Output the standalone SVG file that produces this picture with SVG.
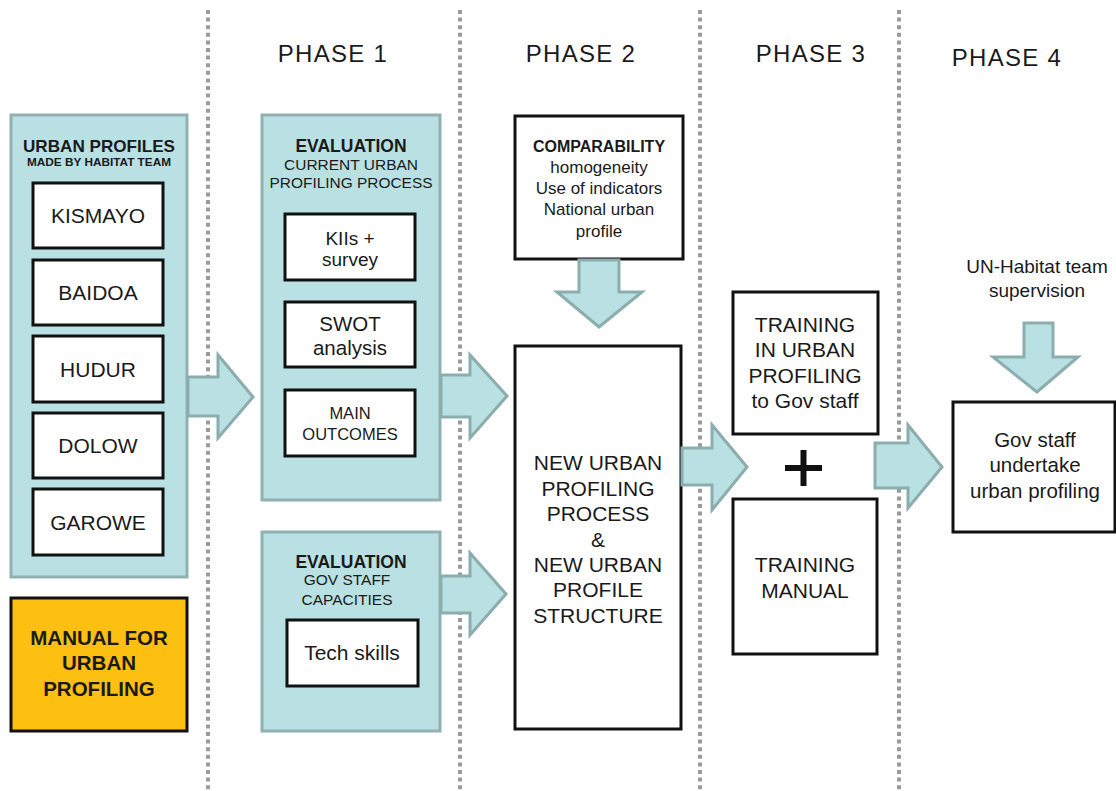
<svg xmlns="http://www.w3.org/2000/svg" width="1116" height="791" viewBox="0 0 1116 791">
<style>
text{font-family:"Liberation Sans",Arial,sans-serif;fill:#1a1a1a;text-anchor:middle}
.sep{stroke:#9a9a9a;stroke-width:4;stroke-dasharray:4 3.6;fill:none}
.panel{fill:#b9e0e3;stroke:#91b1b1;stroke-width:3}
.box{fill:#fff;stroke:#111;stroke-width:3}
.arr{fill:#b9e0e3;stroke:#8cadad;stroke-width:3;stroke-linejoin:miter}
.ph{font-size:24px;letter-spacing:1.3px}
.city{font-size:21px}
.b{font-weight:bold}
</style>
<rect width="1116" height="791" fill="#fff"/>
<g id="separators">
<line class="sep" x1="208" y1="10" x2="208" y2="791"/>
<line class="sep" x1="460" y1="10" x2="460" y2="791"/>
<line class="sep" x1="700" y1="10" x2="700" y2="791"/>
<line class="sep" x1="899" y1="10" x2="899" y2="791"/>
</g>
<g id="headings">
<text class="ph" x="333" y="62">PHASE 1</text>
<text class="ph" x="581" y="62">PHASE 2</text>
<text class="ph" x="811" y="62">PHASE 3</text>
<text class="ph" x="1007" y="66">PHASE 4</text>
</g>
<g id="urban-profiles">
<rect class="panel" x="11" y="115" width="176" height="462"/>
<text class="b" x="99" y="152" font-size="17" textLength="152" lengthAdjust="spacingAndGlyphs">URBAN PROFILES</text>
<text class="b" x="99" y="166" font-size="10.5" textLength="144" lengthAdjust="spacingAndGlyphs">MADE BY HABITAT TEAM</text>
</g>
<g id="kismayo"><rect class="box" x="33" y="183" width="130" height="65"/><text class="city" x="98" y="223">KISMAYO</text></g>
<g id="baidoa"><rect class="box" x="33" y="260" width="130" height="65"/><text class="city" x="98" y="300">BAIDOA</text></g>
<g id="hudur"><rect class="box" x="33" y="336" width="130" height="66"/><text class="city" x="98" y="377">HUDUR</text></g>
<g id="dolow"><rect class="box" x="33" y="413" width="130" height="65"/><text class="city" x="98" y="453">DOLOW</text></g>
<g id="garowe"><rect class="box" x="33" y="489" width="130" height="66"/><text class="city" x="98" y="530">GAROWE</text></g>
<g id="manual">
<rect x="11" y="598" width="176" height="133" fill="#fdbf10" stroke="#111" stroke-width="3"/>
<text class="b" x="99" y="645" font-size="20.5">MANUAL FOR</text>
<text class="b" x="99" y="670" font-size="20.5">URBAN</text>
<text class="b" x="99" y="696" font-size="20.5">PROFILING</text>
</g>
<g id="eval-process">
<rect class="panel" x="262" y="115" width="178" height="385"/>
<text class="b" x="351" y="152" font-size="17.5">EVALUATION</text>
<text x="351" y="170" font-size="15" textLength="134" lengthAdjust="spacingAndGlyphs">CURRENT URBAN</text>
<text x="351" y="188" font-size="15" textLength="163" lengthAdjust="spacingAndGlyphs">PROFILING  PROCESS</text>
</g>
<g id="kiis"><rect class="box" x="285" y="214" width="130" height="66"/><text x="350" y="245" font-size="19">KIIs +</text><text x="350" y="266" font-size="19">survey</text></g>
<g id="swot"><rect class="box" x="285" y="302" width="130" height="65"/><text x="350" y="331" font-size="20.5">SWOT</text><text x="350" y="355" font-size="20.5">analysis</text></g>
<g id="outcomes"><rect class="box" x="285" y="390" width="130" height="66"/><text x="350" y="419" font-size="16.5">MAIN</text><text x="350" y="440" font-size="16.5">OUTCOMES</text></g>
<g id="eval-gov">
<rect class="panel" x="262" y="532" width="178" height="199"/>
<text class="b" x="351" y="568" font-size="17.5">EVALUATION</text>
<text x="347" y="585" font-size="15.5">GOV STAFF</text>
<text x="347" y="605" font-size="15.5">CAPACITIES</text>
</g>
<g id="tech"><rect class="box" x="287" y="620" width="131" height="66"/><text x="352" y="660" font-size="21">Tech skills</text></g>
<g id="comparability">
<rect class="box" x="515" y="116" width="168" height="143"/>
<text class="b" x="599" y="152" font-size="16">COMPARABILITY</text>
<text x="599" y="173" font-size="17">homogeneity</text>
<text x="599" y="194" font-size="17">Use of indicators</text>
<text x="599" y="215" font-size="17">National urban</text>
<text x="599" y="237" font-size="17">profile</text>
</g>
<g id="new-process">
<rect class="box" x="515" y="346" width="166" height="383"/>
<text x="598" y="470" font-size="21">NEW URBAN</text>
<text x="598" y="496" font-size="21">PROFILING</text>
<text x="598" y="521" font-size="21">PROCESS</text>
<text x="598" y="547" font-size="21">&amp;</text>
<text x="598" y="572" font-size="21">NEW URBAN</text>
<text x="598" y="597" font-size="21">PROFILE</text>
<text x="598" y="623" font-size="21">STRUCTURE</text>
</g>
<g id="training">
<rect class="box" x="733" y="292" width="145" height="142"/>
<text x="805" y="332" font-size="21">TRAINING</text>
<text x="805" y="357" font-size="21">IN URBAN</text>
<text x="805" y="383" font-size="21">PROFILING</text>
<text x="805" y="408" font-size="21">to Gov staff</text>
</g>
<g id="plus">
<rect x="785" y="465" width="37" height="6" fill="#111"/>
<rect x="800.5" y="450" width="6" height="36" fill="#111"/>
</g>
<g id="training-manual">
<rect class="box" x="733" y="499" width="144" height="155"/>
<text x="805" y="572" font-size="21">TRAINING</text>
<text x="805" y="598" font-size="21">MANUAL</text>
</g>
<g id="supervision">
<text x="1037" y="273" font-size="19">UN-Habitat  team</text>
<text x="1037" y="297" font-size="19">supervision</text>
</g>
<g id="gov-staff">
<rect class="box" x="953" y="402" width="162" height="130"/>
<text x="1035" y="447" font-size="20.5">Gov staff</text>
<text x="1035" y="472" font-size="20.5">undertake</text>
<text x="1035" y="498" font-size="20.5">urban  profiling</text>
</g>
<g id="connectors">
<polygon class="arr" points="188,377 218,377 218,355 253,397 218,438 218,416 188,416"/>
<polygon class="arr" points="441,375 470,375 470,355 507,396 470,438 470,417 441,417"/>
<polygon class="arr" points="441,576 470,576 470,553 506,594 470,635 470,613 441,613"/>
<polygon class="arr" points="579,260 619,260 619,292 642,292 599,327 557,292 579,292"/>
<polygon class="arr" points="682,448 712,448 712,425 747,467 712,510 712,485 682,485"/>
<polygon class="arr" points="875,443 908,443 908,425 942,467 908,508 908,488 875,488"/>
<polygon class="arr" points="1024,323 1053,323 1053,357 1078,357 1037,392 993,357 1024,357"/>
</g>
</svg>
